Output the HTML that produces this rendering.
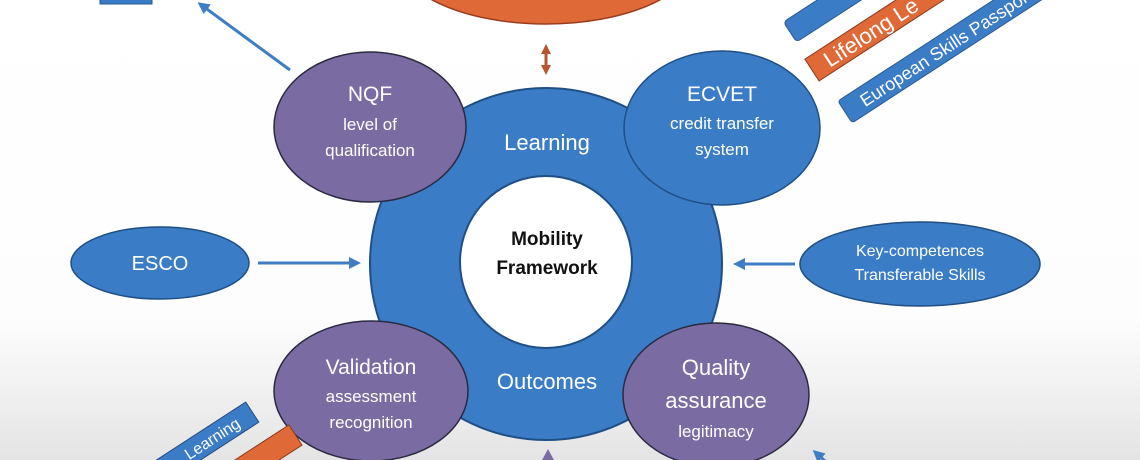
<!DOCTYPE html>
<html><head><meta charset="utf-8"><style>
html,body{margin:0;padding:0;width:1140px;height:460px;overflow:hidden}
body{background:linear-gradient(to bottom,#ffffff 0px,#fdfdfd 320px,#e4e4e4 460px)}
svg{display:block}
text{font-family:"Liberation Sans",sans-serif;fill:#fff;text-anchor:middle}
</style></head><body>
<svg width="1140" height="460" viewBox="0 0 1140 460" style="overflow:hidden">
<defs>
<marker id="ab" markerWidth="12" markerHeight="12" refX="9" refY="6" orient="auto" markerUnits="userSpaceOnUse"><path d="M0,0 L12,6 L0,12 z" fill="#3f7ec4"/></marker>
<marker id="ao" markerWidth="10" markerHeight="10" refX="7" refY="5" orient="auto-start-reverse" markerUnits="userSpaceOnUse"><path d="M0,0 L10,5 L0,10 z" fill="#b8552f"/></marker>
</defs>
<ellipse cx="546" cy="-45" rx="150" ry="69" fill="#df6a38" stroke="#9a3d1c" stroke-width="1.5"/>
<line x1="546" y1="47" x2="546" y2="72" stroke="#b8552f" stroke-width="3" marker-end="url(#ao)" marker-start="url(#ao)"/>
<rect x="100" y="-8" width="52" height="12" fill="#3a7cc6" stroke="#2a5a90"/>
<line x1="290" y1="70" x2="200" y2="4" stroke="#3f7ec4" stroke-width="3" marker-end="url(#ab)"/>
<g transform="translate(790,32) rotate(-33)">
<rect x="0" y="-12" width="120" height="24" rx="4" fill="#3a7cc6" stroke="#2a5a90"/>
</g>
<g transform="translate(812,70) rotate(-33)">
<rect x="0" y="-13" width="150" height="26" fill="#df6a38" stroke="#8a3a1a"/>
<text x="70" y="8" font-size="22">Lifelong Le</text>
</g>
<g transform="translate(845,112) rotate(-33)">
<rect x="0" y="-13" width="240" height="26" rx="3" fill="#3a7cc6" stroke="#2a5a90"/>
<text x="120" y="7" font-size="18">European Skills Passport</text>
</g>
<circle cx="546" cy="264" r="176" fill="#3a7cc6" stroke="#1f4f85" stroke-width="2"/>
<circle cx="546" cy="262" r="86" fill="#fff" stroke="#1f4f85" stroke-width="2"/>
<text x="547" y="245" font-size="19" font-weight="bold" style="fill:#111">Mobility</text>
<text x="547" y="274" font-size="19" font-weight="bold" style="fill:#111">Framework</text>
<text x="547" y="150" font-size="22">Learning</text>
<text x="547" y="389" font-size="22">Outcomes</text>
<ellipse cx="370" cy="127" rx="96" ry="75" fill="#7b6ba3" stroke="#2a2a40" stroke-width="1.5"/>
<text x="370" y="101" font-size="21">NQF</text>
<text x="370" y="130" font-size="17">level of</text>
<text x="370" y="156" font-size="17">qualification</text>
<ellipse cx="722" cy="128" rx="98" ry="77" fill="#3a7cc6" stroke="#1f4f85" stroke-width="1.5"/>
<text x="722" y="101" font-size="21">ECVET</text>
<text x="722" y="129" font-size="17">credit  transfer</text>
<text x="722" y="155" font-size="17">system</text>
<ellipse cx="160" cy="263" rx="89" ry="36" fill="#3a7cc6" stroke="#1f4f85" stroke-width="1.5"/>
<text x="160" y="270" font-size="20">ESCO</text>
<line x1="258" y1="263" x2="358" y2="263" stroke="#3f7ec4" stroke-width="3" marker-end="url(#ab)"/>
<ellipse cx="920" cy="264" rx="120" ry="42" fill="#3a7cc6" stroke="#1f4f85" stroke-width="1.5"/>
<text x="920" y="256" font-size="16">Key-competences</text>
<text x="920" y="280" font-size="16">Transferable Skills</text>
<line x1="795" y1="264" x2="736" y2="264" stroke="#3f7ec4" stroke-width="3" marker-end="url(#ab)"/>
<ellipse cx="371" cy="391" rx="97" ry="70" fill="#7b6ba3" stroke="#2a2a40" stroke-width="1.5"/>
<text x="371" y="374" font-size="21">Validation</text>
<text x="371" y="402" font-size="17">assessment</text>
<text x="371" y="428" font-size="17">recognition</text>
<ellipse cx="716" cy="395" rx="93" ry="72" fill="#7b6ba3" stroke="#2a2a40" stroke-width="1.5"/>
<text x="716" y="375" font-size="22">Quality</text>
<text x="716" y="408" font-size="22">assurance</text>
<text x="716" y="437" font-size="17">legitimacy</text>
<path d="M548,449 L555,462 L541,462 z" fill="#7b6ba3"/>
<line x1="835" y1="470" x2="815" y2="452" stroke="#3f7ec4" stroke-width="3" marker-end="url(#ab)"/>
<g transform="translate(160,472) rotate(-33)">
<rect x="0" y="-12" width="110" height="24" fill="#3a7cc6" stroke="#2a4a80"/>
<text x="62" y="6" font-size="16">Learning</text>
</g>
<g transform="translate(220,484) rotate(-33)">
<rect x="0" y="-12" width="90" height="24" fill="#df6a38" stroke="#8a3a1a"/>
</g>
</svg>
</body></html>
